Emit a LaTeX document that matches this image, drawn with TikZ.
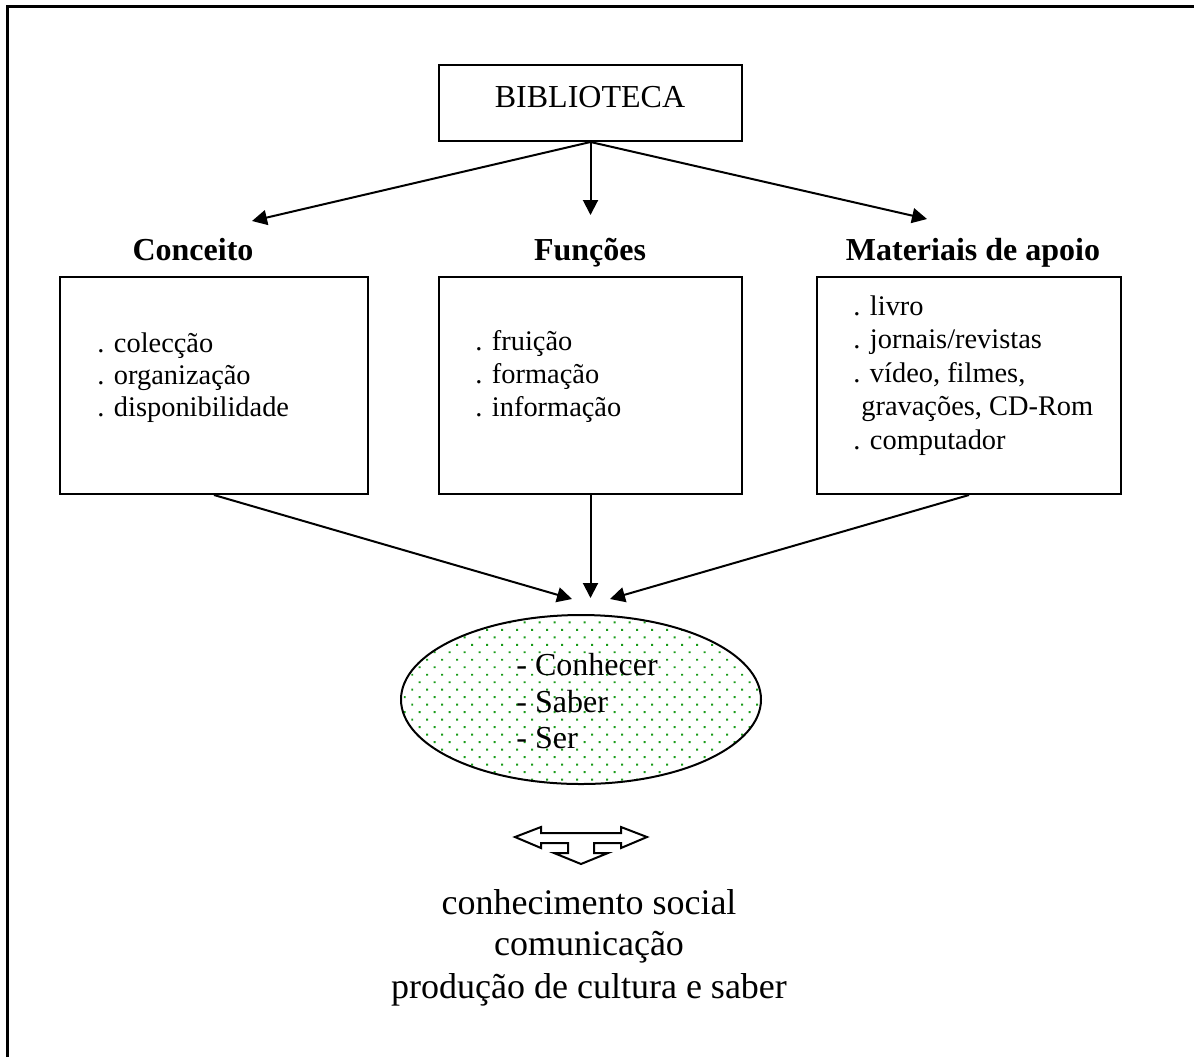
\documentclass[tikz,border=0pt]{standalone}
\usepackage{fontspec}
\setmainfont{Liberation Serif}
\usetikzlibrary{arrows.meta,shapes.geometric,patterns.meta}
\definecolor{dotgreen}{RGB}{25,155,25}

\begin{document}
\begin{tikzpicture}[x=0.5pt,y=-0.5pt,
  every node/.style={inner sep=0pt, font=\fontsize{16}{19}\selectfont},
  box/.style={draw, line width=1pt, rectangle, minimum height=108.5pt},
  head/.style={anchor=base, font=\fontsize{16}{19}\selectfont\bfseries},
  item/.style={anchor=base west, font=\fontsize{14.2}{17}\selectfont},
  outcome/.style={anchor=base, font=\fontsize{18}{21}\selectfont},
  link/.style={line width=1pt, -{Triangle[length=7.5pt,width=7.5pt]}}]

\useasboundingbox (0,0) rectangle (1194,1057);

% outer frame (top and left edges)
\draw[line width=1.5pt] (7,1057) -- (7,6) -- (1194,6);

% top box
\node[draw, line width=1pt, minimum width=151.5pt, minimum height=38pt] (bib) at (590.5,103) {};
\node[anchor=base] (bibtxt) at (590,107) {BIBLIOTECA};

% headings
\node[head] (hcon) at (193,260) {Conceito};
\node[head] (hfun) at (590,260) {Funções};
\node[head] (hmat) at (973,260) {Materiais de apoio};

% arrow ends under the top box
\coordinate (tcon) at (252,221);
\coordinate (tfun) at (590.5,215);
\coordinate (tmat) at (927,219);
\draw[link] (bib.south) -- (tcon);
\draw[link] (bib.south) -- (tfun);
\draw[link] (bib.south) -- (tmat);

% content boxes
\node[box, minimum width=154pt] (bcon) at (214,385.5) {};
\node[box, minimum width=151.5pt] (bfun) at (590.5,385.5) {};
\node[box, minimum width=152pt] (bmat) at (969,385.5) {};

\node[item] (c1) at (97,352) {. colecção};
\node[item] (c2) at (97,384) {. organização};
\node[item] (c3) at (97,416) {. disponibilidade};

\node[item] (f1) at (475,350) {. fruição};
\node[item] (f2) at (475,383) {. formação};
\node[item] (f3) at (475,416) {. informação};

\node[item] (m1) at (853,315) {. livro};
\node[item] (m2) at (853,348) {. jornais/revistas};
\node[item] (m3) at (853,382) {. vídeo, filmes,};
\node[item] (m4) at (861,415) {gravações, CD-Rom};
\node[item] (m5) at (853,449) {. computador};

% central ellipse
\node[ellipse, draw, line width=1pt,
      pattern={Dots[distance=5.3pt,angle=45,radius=0.7pt]}, pattern color=dotgreen,
      minimum width=180pt, minimum height=84.5pt] (core) at (581,699.5) {};
\node[anchor=base west] (e1) at (516,675) {- Conhecer};
\node[anchor=base west] (e2) at (516,712) {- Saber};
\node[anchor=base west] (e3) at (516,748) {- Ser};

% arrows into the ellipse
\coordinate (icon) at (572,599);
\coordinate (ifun) at (590.5,598);
\coordinate (imat) at (610,599);
\draw[link] (bcon.south) -- (icon);
\draw[link] (bfun.south) -- (ifun);
\draw[link] (bmat.south) -- (imat);

% three-way block arrow
\draw[line width=1pt, line join=miter]
  (515,837) -- (541,827) -- (541,833) -- (621,833) -- (621,827) -- (647,837)
  -- (621,848) -- (621,843) -- (594,843) -- (594,853) -- (608,853) -- (581,864)
  -- (554,853) -- (568,853) -- (568,843) -- (541,843) -- (541,848) -- cycle;

% outcomes
\node[outcome] (o1) at (589,914) {conhecimento social};
\node[outcome] (o2) at (589,955) {comunicação};
\node[outcome] (o3) at (589,998) {produção de cultura e saber};

\end{tikzpicture}
\end{document}
